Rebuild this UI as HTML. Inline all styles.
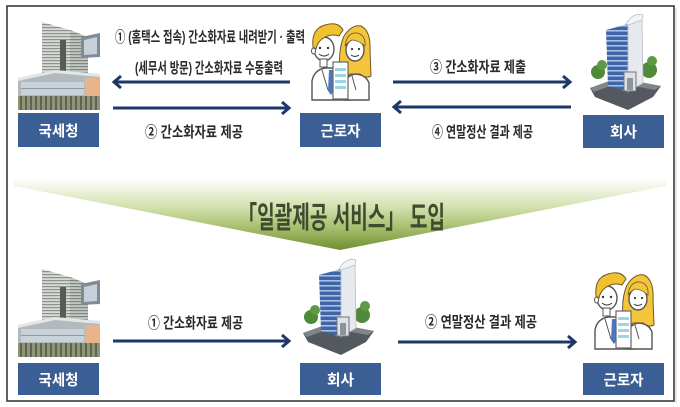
<!DOCTYPE html>
<html><head><meta charset="utf-8">
<style>
html,body{margin:0;padding:0;background:#fff;}
svg{display:block;}
text{font-family:"Liberation Sans","Noto Sans CJK KR","NanumGothic",sans-serif;}
</style></head>
<body>
<svg width="680" height="407" viewBox="0 0 680 407" xmlns="http://www.w3.org/2000/svg">
<defs>
  <linearGradient id="chev" x1="0" y1="178" x2="0" y2="250" gradientUnits="userSpaceOnUse">
    <stop offset="0" stop-color="#ffffff"/>
    <stop offset="0.15" stop-color="#eef4e0"/>
    <stop offset="0.4" stop-color="#d3e1ae"/>
    <stop offset="0.7" stop-color="#a6bd6c"/>
    <stop offset="1" stop-color="#6f8f32"/>
  </linearGradient>
  <pattern id="stripeA" width="4" height="3" patternUnits="userSpaceOnUse">
    <rect width="4" height="3" fill="#d7dad6"/>
    <rect width="4" height="1.2" fill="#8e948d"/>
  </pattern>
  <pattern id="stripeB" width="4" height="3" patternUnits="userSpaceOnUse">
    <rect width="4" height="3" fill="#c2c7c2"/>
    <rect width="4" height="1.2" fill="#7f857f"/>
  </pattern>
  <pattern id="glass" width="4" height="5" patternUnits="userSpaceOnUse">
    <rect width="4" height="5" fill="#3f64a8"/>
    <rect width="4" height="1.6" fill="#a9c0e6"/>
  </pattern>
  <pattern id="cols" width="5" height="14" patternUnits="userSpaceOnUse">
    <rect width="5" height="14" fill="#8e9676"/>
    <rect width="2" height="14" fill="#5f6356"/>
  </pattern>

  <g id="nts">
    <!-- tower side -->
    <polygon points="70,30 88,37 88,80 70,80" fill="url(#stripeB)"/>
    <!-- tower front -->
    <polygon points="42,22 70,30 70,80 42,80" fill="url(#stripeA)"/>
    <rect x="60" y="40" width="6" height="32" fill="#565b56"/>
    <!-- glass box -->
    <polygon points="81,37 100,33 100,57 81,58" fill="#7f8c98"/>
    <polygon points="84,40 97,37 97,54 84,55" fill="#c6d0da"/>
    <!-- podium -->
    <polygon points="18,78 55,70 100,74 100,110 18,110" fill="#b3babd"/>
    <polygon points="18,78 55,70 100,74 100,77 55,73 18,81" fill="#e2e6e8"/>
    <rect x="21" y="82" width="63" height="13" fill="#c9d2d8"/>
    <rect x="21" y="88" width="63" height="1" fill="#8d979e"/>
    <rect x="85" y="78" width="15" height="20" fill="#e9b48c"/>
    <rect x="18" y="96" width="82" height="14" fill="url(#cols)"/>
  </g>

  <g id="ppl">
    <!-- woman hair back -->
    <path d="M341,77 Q337,52 344,36 Q352,24 361,26 Q371,31 370,50 L371,76 Q365,79 360,74 L350,74 Q346,79 341,77 Z" fill="#f4c43a" stroke="#6b5a2a" stroke-width="1"/>
    <!-- man body -->
    <path d="M312,100 L312,81 Q314,70 325,68 L338,68 Q349,70 350,81 L350,100 Z" fill="#fff" stroke="#555" stroke-width="1.4"/>
    <polygon points="329,70 333,70 334,91 331,95 328,91" fill="#4a78c0"/>
    <line x1="322" y1="70" x2="328" y2="90" stroke="#555" stroke-width="1"/>
    <!-- man head -->
    <ellipse cx="324" cy="49" rx="10" ry="12" fill="#fff" stroke="#555" stroke-width="1.4"/>
    <ellipse cx="313.5" cy="51" rx="2" ry="3" fill="#fff" stroke="#555" stroke-width="1"/>
    <rect x="320" y="59" width="7" height="8" fill="#fff" stroke="#555" stroke-width="1"/>
    <circle cx="320" cy="48" r="1.2" fill="#333"/>
    <circle cx="328" cy="48" r="1.2" fill="#333"/>
    <path d="M319,54 Q324,58 329,54" fill="none" stroke="#333" stroke-width="1"/>
    <!-- man hair -->
    <path d="M313,47 Q311,29 325,25 Q338,21 343,30 L339,36 Q330,33 322,39 Q317,43 316,49 Z" fill="#f2c12e" stroke="#6b5a2a" stroke-width="1"/>
    <!-- woman body -->
    <path d="M345,100 L345,83 Q347,75 356,74 Q366,75 369,83 L369,100 Z" fill="#fff" stroke="#555" stroke-width="1.4"/>
    <line x1="352" y1="76" x2="356" y2="90" stroke="#555" stroke-width="1"/>
    <!-- woman face -->
    <ellipse cx="355" cy="50" rx="9" ry="11" fill="#fff" stroke="#555" stroke-width="1.4"/>
    <path d="M345,46 Q347,32 357,33 Q366,35 365,46 Q358,40 352,40 Q348,42 345,46 Z" fill="#f4c43a" stroke="#6b5a2a" stroke-width="0.8"/>
    <circle cx="352" cy="49" r="1.1" fill="#333"/>
    <circle cx="359" cy="49" r="1.1" fill="#333"/>
    <path d="M351,55 Q355,58 359,55" fill="none" stroke="#333" stroke-width="1"/>
    <!-- document -->
    <rect x="333" y="62" width="15" height="37" fill="#fff" stroke="#666" stroke-width="1.2"/>
    <rect x="335" y="68" width="11" height="3" fill="#9fd3e8"/>
    <rect x="335" y="74" width="11" height="3" fill="#9fd3e8"/>
    <rect x="335" y="80" width="11" height="3" fill="#9fd3e8"/>
    <rect x="335" y="86" width="11" height="3" fill="#9fd3e8"/>
  </g>

  <g id="co">
    <circle cx="598" cy="72" r="7" fill="#4f8a3a"/>
    <circle cx="602" cy="65" r="5" fill="#5e9a45"/>
    <circle cx="649" cy="70" r="8" fill="#4f8a3a"/>
    <circle cx="652" cy="61" r="5" fill="#5e9a45"/>
    <polygon points="590,88 618,78 661,86 653,97 628,110 595,97" fill="#54585f"/>
    <polygon points="590,88 618,78 661,86 655,90 618,83 594,92" fill="#80858c"/>
    <polygon points="606,30 628,24 628,92 608,86" fill="url(#glass)"/>
    <polygon points="628,24 642,19 643,83 628,92" fill="#e6eaee" stroke="#b8bec6" stroke-width="0.8"/>
    <path d="M626,24 Q633,12 643,15 L642,20 L628,25 Z" fill="#f2f4f6" stroke="#b8bec6" stroke-width="0.8"/>
    <rect x="624" y="72" width="12" height="19" fill="#dfe3e8" stroke="#6f747b" stroke-width="1"/>
    <rect x="627" y="78" width="6" height="12" fill="#8c939b"/>
  </g>

  <g id="ar">
  </g>
</defs>

<!-- frame -->
<rect x="7" y="6" width="667" height="395" fill="#fff" stroke="#3a3a3a" stroke-width="1.6"/>
<line x1="676" y1="8" x2="676" y2="403" stroke="#cfcfcf" stroke-width="1"/>

<!-- chevron -->
<polygon points="14,178 666,178 666,186 340,250 14,186" fill="url(#chev)"/>
<text x="238" y="228" font-size="30" font-weight="700" fill="#3f4b2e" textLength="207" lengthAdjust="spacingAndGlyphs">「일괄제공 서비스」 도입</text>

<!-- top row icons -->
<use href="#nts"/>
<use href="#ppl"/>
<use href="#co"/>

<!-- bottom row icons -->
<use href="#nts" transform="translate(0,247)"/>
<use href="#co" transform="translate(-287,245)"/>
<use href="#ppl" transform="translate(283,249)"/>

<!-- label boxes -->
<g fill="#3b5e95">
  <rect x="18" y="113" width="81" height="34"/>
  <rect x="300" y="113" width="81" height="34"/>
  <rect x="583" y="115" width="81" height="33"/>
  <rect x="18" y="363" width="81" height="32"/>
  <rect x="300" y="363" width="81" height="32"/>
  <rect x="583" y="363" width="81" height="32"/>
</g>
<g fill="#fff" font-size="15" font-weight="700" text-anchor="middle">
  <text x="58.5" y="136" textLength="40" lengthAdjust="spacingAndGlyphs">국세청</text>
  <text x="340.5" y="136" textLength="40" lengthAdjust="spacingAndGlyphs">근로자</text>
  <text x="623.5" y="137" textLength="27" lengthAdjust="spacingAndGlyphs">회사</text>
  <text x="58.5" y="385" textLength="40" lengthAdjust="spacingAndGlyphs">국세청</text>
  <text x="340.5" y="385" textLength="27" lengthAdjust="spacingAndGlyphs">회사</text>
  <text x="623.5" y="385" textLength="40" lengthAdjust="spacingAndGlyphs">근로자</text>
</g>

<!-- arrows -->
<g stroke="#1d3768" stroke-width="3" fill="none" stroke-linejoin="miter">
  <!-- A1 left -->
  <line x1="290" y1="82" x2="115" y2="82"/>
  <path d="M121,76 L114,82 L121,88"/>
  <!-- A2 right -->
  <line x1="113" y1="108" x2="288" y2="108"/>
  <path d="M282,102 L289,108 L282,114"/>
  <!-- A3 right -->
  <line x1="393" y1="82" x2="569" y2="82"/>
  <path d="M563,76 L570,82 L563,88"/>
  <!-- A4 left -->
  <line x1="571" y1="107" x2="395" y2="107"/>
  <path d="M401,101 L394,107 L401,113"/>
  <!-- B1 right -->
  <line x1="113" y1="341" x2="288" y2="341"/>
  <path d="M282,335 L289,341 L282,347"/>
  <!-- B2 right -->
  <line x1="398" y1="342" x2="574" y2="342"/>
  <path d="M568,336 L575,342 L568,348"/>
</g>

<!-- arrow labels -->
<g fill="#2a2a2a" font-size="15" font-weight="700">
  <text x="115" y="42" textLength="190" lengthAdjust="spacingAndGlyphs">① (홈택스 접속) 간소화자료 내려받기 · 출력</text>
  <text x="135" y="73" textLength="148" lengthAdjust="spacingAndGlyphs">(세무서 방문) 간소화자료 수동출력</text>
  <text x="145" y="137" textLength="98" lengthAdjust="spacingAndGlyphs">② 간소화자료 제공</text>
  <text x="430" y="72" textLength="96" lengthAdjust="spacingAndGlyphs">③ 간소화자료 제출</text>
  <text x="432" y="137" textLength="101" lengthAdjust="spacingAndGlyphs">④ 연말정산 결과 제공</text>
  <text x="148" y="328" textLength="95" lengthAdjust="spacingAndGlyphs">① 간소화자료 제공</text>
  <text x="425" y="327" textLength="112" lengthAdjust="spacingAndGlyphs">② 연말정산 결과 제공</text>
</g>
</svg>
</body></html>
